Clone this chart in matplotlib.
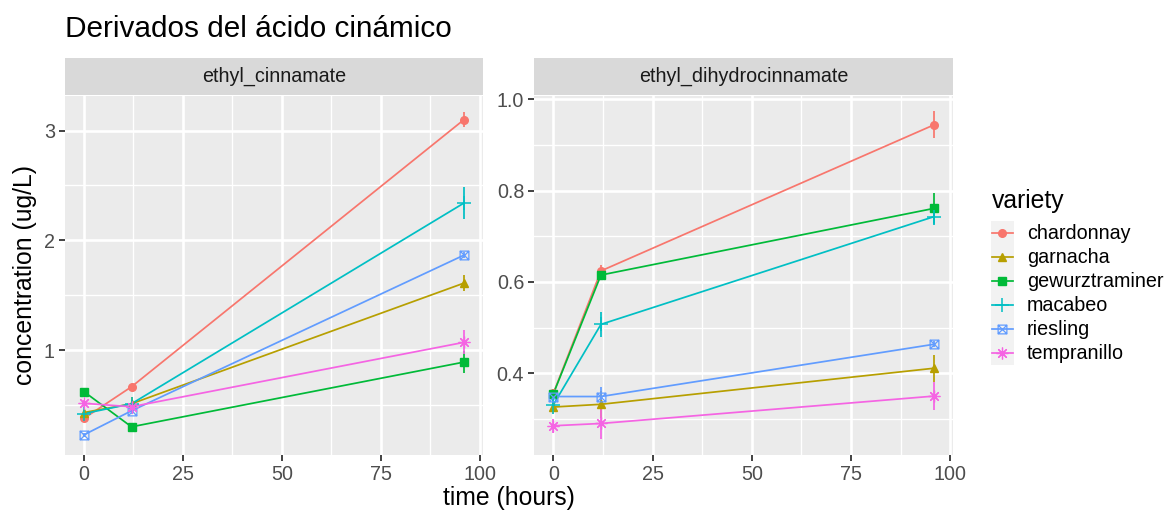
import matplotlib
matplotlib.use("Agg")
import matplotlib.pyplot as plt
from matplotlib.path import Path
import numpy as np

plt.rcParams['font.family'] = ['Liberation Sans', 'DejaVu Sans']

# datos
times = [0, 12, 96]
varieties = ["chardonnay", "garnacha", "gewurztraminer", "macabeo", "riesling", "tempranillo"]
compounds = ["ethyl_cinnamate", "ethyl_dihydrocinnamate"]

cinn_mean = {
    "chardonnay": [0.377, 0.665, 3.10],
    "garnacha": [0.43, 0.51, 1.61],
    "gewurztraminer": [0.62, 0.30, 0.89],
    "macabeo": [0.42, 0.51, 2.34],
    "riesling": [0.227, 0.446, 1.865],
    "tempranillo": [0.514, 0.483, 1.07],
}
cinn_err = {
    "chardonnay": [0.02, 0.02, 0.07],
    "garnacha": [0.02, 0.06, 0.07],
    "gewurztraminer": [0.02, 0.02, 0.10],
    "macabeo": [0.02, 0.03, 0.15],
    "riesling": [0.02, 0.03, 0.03],
    "tempranillo": [0.03, 0.02, 0.11],
}
dihy_mean = {
    "chardonnay": [0.356, 0.624, 0.944],
    "garnacha": [0.326, 0.332, 0.411],
    "gewurztraminer": [0.355, 0.615, 0.761],
    "macabeo": [0.331, 0.507, 0.743],
    "riesling": [0.349, 0.349, 0.4635],
    "tempranillo": [0.285, 0.29, 0.35],
}
dihy_err = {
    "chardonnay": [0.01, 0.012, 0.029],
    "garnacha": [0.008, 0.03, 0.03],
    "gewurztraminer": [0.01, 0.01, 0.033],
    "macabeo": [0.02, 0.027, 0.018],
    "riesling": [0.01, 0.02, 0.006],
    "tempranillo": [0.015, 0.033, 0.03],
}

colors = ["#F8766D", "#B79F00", "#00BA38", "#00BFC4", "#619CFF", "#F564E3"]

# cuadrado con aspa (shape 7 de ggplot)
box_x = Path([(-1, -1), (1, -1), (1, 1), (-1, 1), (-1, -1), (-1, -1), (1, 1), (-1, 1), (1, -1)],
             [Path.MOVETO, Path.LINETO, Path.LINETO, Path.LINETO, Path.CLOSEPOLY,
              Path.MOVETO, Path.LINETO, Path.MOVETO, Path.LINETO])
markers = [
    dict(marker="o", ms=5.5),
    dict(marker="^", ms=6.3),
    dict(marker="s", ms=5.3),
    dict(marker="+", ms=10, mew=1.1),
    dict(marker=box_x, ms=6.3, mfc="none", mew=0.9),
    dict(marker=(8, 2, 0), ms=8.5, mew=0.9),
]

W, H = 1165, 513
fig = plt.figure(figsize=(W / 100, H / 100), dpi=100)

def fx(px):
    return px / W

def fy(py):
    return 1 - py / H

panels = [
    dict(x0=65, x1=483, means=cinn_mean, errs=cinn_err, ylim=(0.043, 3.32),
         yticks=[1, 2, 3], ylabels=["1", "2", "3"], yminor=[0.5, 1.5, 2.5]),
    dict(x0=534.3, x1=953.3, means=dihy_mean, errs=dihy_err, ylim=(0.221, 1.008),
         yticks=[0.4, 0.6, 0.8, 1.0], ylabels=["0.4", "0.6", "0.8", "1.0"], yminor=[0.3, 0.5, 0.7, 0.9]),
]
top, bot = 95.5, 455
strip_top = 58.3

for p, name in zip(panels, compounds):
    ax = fig.add_axes([fx(p["x0"]), fy(bot), fx(p["x1"] - p["x0"]), (bot - top) / H])
    ax.set_facecolor("#EBEBEB")
    for s in ax.spines.values():
        s.set_visible(False)
    ax.set_xlim(-4.8, 100.8)
    ax.set_ylim(*p["ylim"])
    for xv in [12.5, 37.5, 62.5, 87.5]:
        ax.axvline(xv, color="white", lw=0.95, zorder=0)
    for yv in p["yminor"]:
        ax.axhline(yv, color="white", lw=0.95, zorder=0)
    for xv in [0, 25, 50, 75, 100]:
        ax.axvline(xv, color="white", lw=1.9, zorder=0)
    for yv in p["yticks"]:
        ax.axhline(yv, color="white", lw=1.9, zorder=0)
    ax.set_xticks([0, 25, 50, 75, 100])
    ax.set_xticklabels(["0", "25", "50", "75", "100"])
    ax.set_yticks(p["yticks"])
    ax.set_yticklabels(p["ylabels"])
    ax.tick_params(length=4.3, width=1.3, color="#333333", labelcolor="#4D4D4D",
                   labelsize=14.2, pad=3)

    for v, c, m in zip(varieties, colors, markers):
        y = np.array(p["means"][v])
        e = np.array(p["errs"][v])
        ax.plot(times, y, color=c, lw=1.25, zorder=2)
        ax.vlines(times, y - e, y + e, color=c, lw=1.25, zorder=3)
        ax.plot(times, y, ls="none", color=c, zorder=4, **m)

    sax = fig.add_axes([fx(p["x0"]), fy(top - 1), fx(p["x1"] - p["x0"]), (top - 1 - strip_top) / H])
    sax.set_facecolor("#D9D9D9")
    sax.set_xticks([])
    sax.set_yticks([])
    for s in sax.spines.values():
        s.set_visible(False)
    sax.text(0.5, 0.5, name, ha="center", va="center", fontsize=14.2, color="#1A1A1A",
             transform=sax.transAxes)

fig.text(fx(65), fy(37), "Derivados del ácido cinámico", fontsize=21.4, va="baseline", ha="left")
fig.text(fx(509), fy(498), "time (hours)", fontsize=17.8, ha="center", va="center")
fig.text(fx(25), fy(275), "concentration (ug/L)", fontsize=17.8, ha="center", va="center", rotation=90)

# leyenda
fig.text(fx(991.5), fy(208.3), "variety", fontsize=17.8, va="baseline", ha="left")
key_y0, key_step = 233.3, 24.0
lax = fig.add_axes([fx(990.7), fy(365), fx(1014 - 990.7), (365 - 220.7) / H])
lax.set_facecolor("#F2F2F2")
lax.set_xlim(0, 1)
lax.set_ylim(365, 220.7)
lax.set_xticks([])
lax.set_yticks([])
for s in lax.spines.values():
    s.set_visible(False)
for i, (v, c, m) in enumerate(zip(varieties, colors, markers)):
    yk = key_y0 + i * key_step
    lax.plot([0.05, 0.95], [yk, yk], color=c, lw=1.25)
    lax.plot([0.5], [yk], ls="none", color=c, **m)
    fig.text(fx(1026.7), fy(yk), v, fontsize=14.2, va="center", ha="left")

fig.savefig("out.png", dpi=100)
